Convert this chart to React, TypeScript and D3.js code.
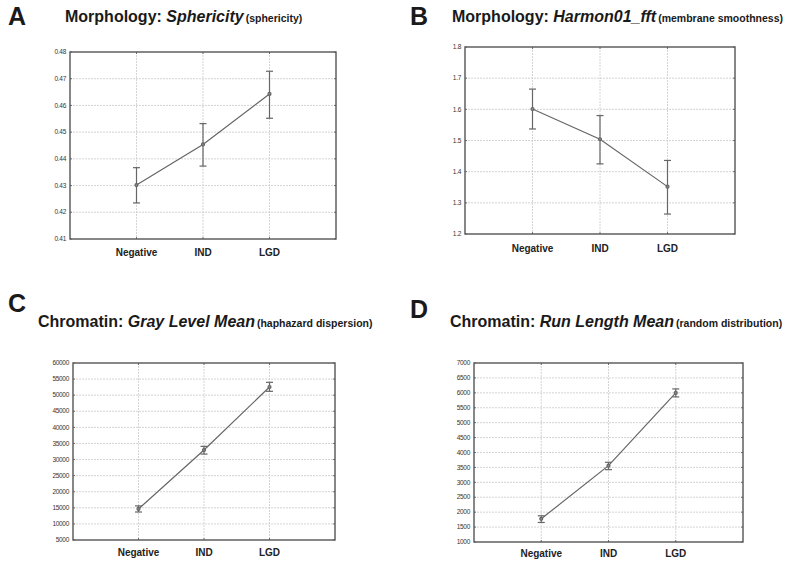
import React from 'react';
import * as d3 from 'd3';

const categories = ['Negative', 'IND', 'LGD'];

const sphericityMean = [0.4302, 0.4454, 0.4643];
const sphericityLow = [0.4235, 0.4373, 0.4552];
const sphericityHigh = [0.4367, 0.4532, 0.4728];
const sphericityTicks = [0.41, 0.42, 0.43, 0.44, 0.45, 0.46, 0.47, 0.48];

const harmonMean = [1.601, 1.504, 1.352];
const harmonLow = [1.537, 1.425, 1.264];
const harmonHigh = [1.665, 1.58, 1.436];
const harmonTicks = [1.2, 1.3, 1.4, 1.5, 1.6, 1.7, 1.8];

const grayMean = [14650, 32950, 52550];
const grayLow = [13700, 31700, 51200];
const grayHigh = [15600, 34100, 54000];
const grayTicks = [5000, 10000, 15000, 20000, 25000, 30000, 35000, 40000, 45000, 50000, 55000, 60000];

const runMean = [1778, 3559, 5998];
const runLow = [1655, 3425, 5864];
const runHigh = [1879, 3672, 6131];
const runTicks = [1000, 1500, 2000, 2500, 3000, 3500, 4000, 4500, 5000, 5500, 6000, 6500, 7000];

const font = 'Liberation Sans, Arial, sans-serif';

interface PanelProps {
  box: [number, number, number, number]; // x0, y0, x1, y1
  mean: number[];
  low: number[];
  high: number[];
  ticks: number[];
  fmt: (v: number) => string;
  catY: number;
}

const Panel: React.FC<PanelProps> = ({ box, mean, low, high, ticks, fmt, catY }) => {
  const [x0, y0, x1, y1] = box;
  const x = d3.scaleLinear().domain([0, 4]).range([x0, x1]);
  const y = d3.scaleLinear().domain([ticks[0], ticks[ticks.length - 1]]).range([y1, y0]);
  const line = d3.line<number>().x((_, i) => x(i + 1)).y(d => y(d));
  return (
    <g>
      {ticks.slice(1, -1).map(t => (
        <line key={'h' + t} x1={x0} x2={x1} y1={y(t)} y2={y(t)} stroke="#cfcfcf" strokeWidth={0.9} strokeDasharray="2,1" />
      ))}
      {categories.map((c, i) => (
        <line key={'v' + c} x1={x(i + 1)} x2={x(i + 1)} y1={y0} y2={y1} stroke="#cfcfcf" strokeWidth={0.9} strokeDasharray="2,1" />
      ))}
      {ticks.map(t => (
        <g key={'t' + t}>
          <line x1={x0} x2={x0 + 2} y1={y(t)} y2={y(t)} stroke="#555" strokeWidth={0.8} />
          <line x1={x1 - 2} x2={x1} y1={y(t)} y2={y(t)} stroke="#555" strokeWidth={0.8} />
          <text x={x0 - 4} y={y(t) + 2.2} textAnchor="end" fontSize={6.5} fontFamily={font} fill="#333" letterSpacing={-0.3}>{fmt(t)}</text>
        </g>
      ))}
      {categories.map((c, i) => (
        <g key={'c' + c}>
          <line x1={x(i + 1)} x2={x(i + 1)} y1={y1 - 2} y2={y1} stroke="#555" strokeWidth={0.8} />
          <line x1={x(i + 1)} x2={x(i + 1)} y1={y0} y2={y0 + 2} stroke="#555" strokeWidth={0.8} />
          <text x={x(i + 1)} y={catY} textAnchor="middle" fontSize={10} fontWeight="bold" fontFamily={font} fill="#222">{c}</text>
        </g>
      ))}
      <rect x={x0} y={y0} width={x1 - x0} height={y1 - y0} fill="none" stroke="#555" strokeWidth={1.4} />
      <path d={line(mean) || ''} fill="none" stroke="#666" strokeWidth={1.2} />
      {mean.map((m, i) => {
        const cx = x(i + 1);
        return (
          <g key={'e' + i} stroke="#666" strokeWidth={1.2}>
            <line x1={cx} x2={cx} y1={y(low[i])} y2={y(high[i])} />
            <line x1={cx - 3.5} x2={cx + 3.5} y1={y(low[i])} y2={y(low[i])} />
            <line x1={cx - 3.5} x2={cx + 3.5} y1={y(high[i])} y2={y(high[i])} />
            <circle cx={cx} cy={y(m)} r={1.5} fill="#888" />
          </g>
        );
      })}
    </g>
  );
};

const Title: React.FC<{ letter: string; lx: number; ly: number; tx: number; ty: number; main: string; italic: string; note: string }> =
  ({ letter, lx, ly, tx, ty, main, italic, note }) => (
    <g fontFamily={font} fontWeight="bold" fill="#1a1a1a">
      <text x={lx} y={ly} fontSize={25}>{letter}</text>
      <text x={tx} y={ty} fontSize={16}>
        {main}
        <tspan fontStyle="italic">{italic}</tspan>
        <tspan fontSize={10.5} dx={2}>{note}</tspan>
      </text>
    </g>
  );

export default function App() {
  return (
    <div style={{ position: 'absolute', left: 0, top: 0 }}>
      <svg width={786} height={563} style={{ display: 'block', background: '#fff' }}>
        <Title letter="A" lx={8} ly={25} tx={65} ty={22} main="Morphology: " italic="Sphericity" note="(sphericity)" />
        <Title letter="B" lx={410} ly={25} tx={452} ty={22} main="Morphology: " italic="Harmon01_fft" note="(membrane smoothness)" />
        <Title letter="C" lx={8} ly={312} tx={38} ty={327} main="Chromatin: " italic="Gray Level Mean" note="(haphazard dispersion)" />
        <Title letter="D" lx={410} ly={318} tx={450} ty={327} main="Chromatin: " italic="Run Length Mean" note="(random distribution)" />
        <Panel box={[70, 52, 336, 239]} mean={sphericityMean} low={sphericityLow} high={sphericityHigh} ticks={sphericityTicks} fmt={d3.format('.2f')} catY={256} />
        <Panel box={[465, 47, 735, 234]} mean={harmonMean} low={harmonLow} high={harmonHigh} ticks={harmonTicks} fmt={d3.format('.1f')} catY={252} />
        <Panel box={[73, 363, 335, 540]} mean={grayMean} low={grayLow} high={grayHigh} ticks={grayTicks} fmt={d3.format('d')} catY={556} />
        <Panel box={[474, 363, 743, 542]} mean={runMean} low={runLow} high={runHigh} ticks={runTicks} fmt={d3.format('d')} catY={557} />
      </svg>
    </div>
  );
}
